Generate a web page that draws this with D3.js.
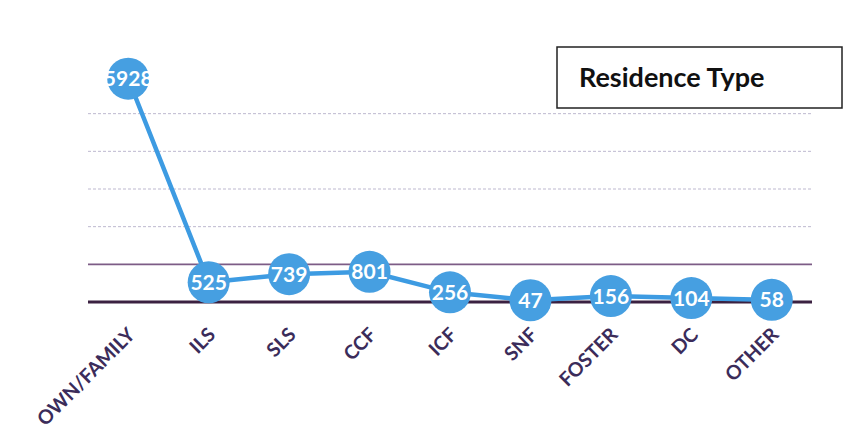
<!DOCTYPE html>
<html><head><meta charset="utf-8">
<script src="https://cdn.jsdelivr.net/npm/d3@7/dist/d3.min.js"></script>
<style>body{margin:0;background:#fff}svg{display:block}</style>
</head><body>
<svg id="c" width="844" height="445"></svg>
<script>
const categories = ["OWN/FAMILY","ILS","SLS","CCF","ICF","SNF","FOSTER","DC","OTHER"];
const values = [5928,525,739,801,256,47,156,104,58];
const gridTicks = [1000,2000,3000,4000,5000];
const title = "Residence Type";

const svg = d3.select("#c");
const x = d3.scaleBand().domain(categories).range([88, 812]);
const y = d3.scaleLinear().domain([0, 6000]).range([302, 76]);
const cx = d => x(d) + x.bandwidth()/2;

// gridlines
svg.append("g").selectAll("line").data(gridTicks).join("line")
  .attr("x1", 88).attr("x2", 812)
  .attr("y1", d => y(d)).attr("y2", d => y(d))
  .attr("stroke", d => d === 1000 ? "#7d5c86" : "#bdb8cf")
  .attr("stroke-width", d => d === 1000 ? 1.6 : 1)
  .attr("stroke-dasharray", d => d === 1000 ? null : "3,2");

// baseline
svg.append("line").attr("x1", 88).attr("x2", 812)
  .attr("y1", y(0)).attr("y2", y(0))
  .attr("stroke", "#3b2141").attr("stroke-width", 3);

// x-axis labels
const xAxis = d3.axisBottom(x).tickSize(0).tickPadding(0);
const gx = svg.append("g").attr("transform", `translate(0,${y(0)})`).call(xAxis);
gx.select(".domain").remove();
gx.selectAll("text")
  .attr("font-family", "Lato, 'Open Sans', sans-serif")
  .attr("font-weight", "bold").attr("font-size", 19.5).attr("fill", "#3b2c5a")
  .attr("text-anchor", "end").attr("dy", null)
  .attr("transform", "translate(8,34) rotate(-45)");

// line
const data = categories.map((c, i) => ({c, v: values[i]}));
svg.append("path").datum(data)
  .attr("fill", "none").attr("stroke", "#3d9be2").attr("stroke-width", 4.5)
  .attr("d", d3.line().x(d => cx(d.c)).y(d => y(d.v)));

// markers
const m = svg.append("g").selectAll("g").data(data).join("g")
  .attr("transform", d => `translate(${cx(d.c)},${y(d.v)})`);
m.append("circle").attr("r", 21).attr("fill", "#469fe1");
m.append("text").text(d => d.v)
  .attr("text-anchor", "middle").attr("dy", "0.36em")
  .attr("font-family", "Lato, 'Open Sans', sans-serif")
  .attr("font-weight", "bold").attr("font-size", 21).attr("fill", "#fff");

// title box
svg.append("rect").attr("x", 557).attr("y", 47).attr("width", 285).attr("height", 61)
  .attr("fill", "#fff").attr("stroke", "#222").attr("stroke-width", 1.5);
svg.append("text").text(title).attr("x", 579).attr("y", 87)
  .attr("font-family", "Lato, 'Open Sans', sans-serif")
  .attr("font-weight", "bold").attr("font-size", 27).attr("fill", "#111");
</script>
</body></html>
